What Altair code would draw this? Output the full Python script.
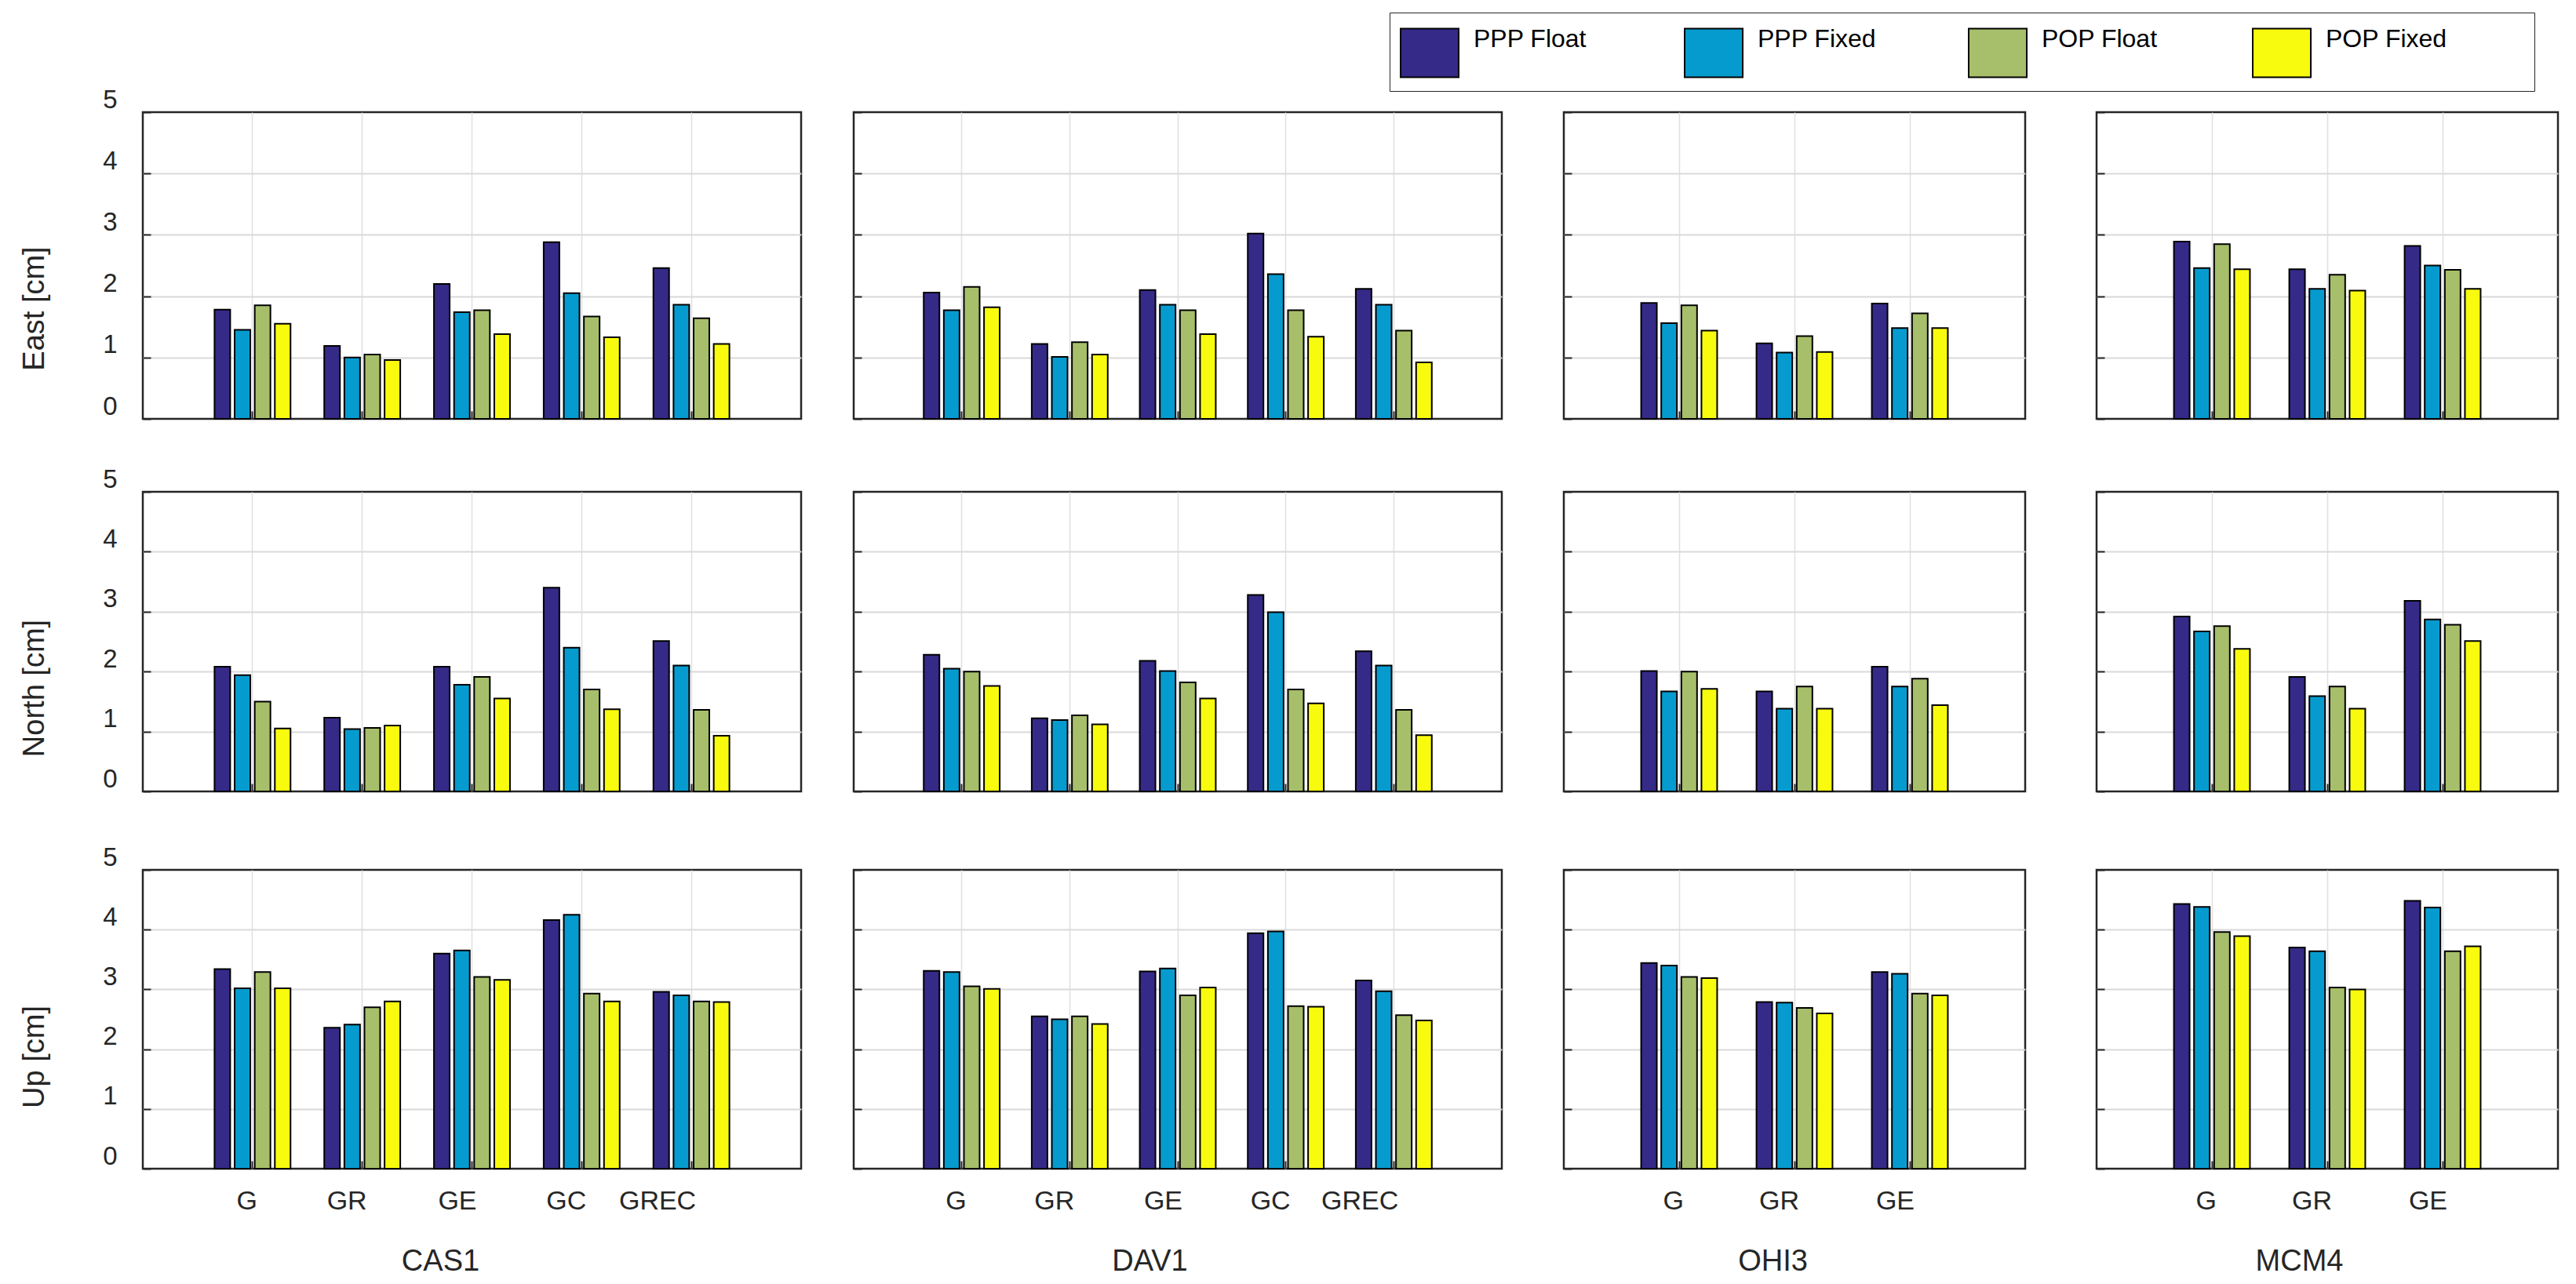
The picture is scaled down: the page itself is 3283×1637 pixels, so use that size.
import altair as alt
import pandas as pd

# ---------------- data ----------------
SERIES = ["PPP Float", "PPP Fixed", "POP Float", "POP Fixed"]
COLORS = ["#352A87", "#069BCF", "#A7BF6A", "#F9FB0E"]
STATIONS = ["CAS1", "DAV1", "OHI3", "MCM4"]
COMPONENTS = ["East", "North", "Up"]

GROUPS_CAS1 = ["G", "GR", "GE", "GC", "GREC"]
GROUPS_DAV1 = ["G", "GR", "GE", "GC", "GREC"]
GROUPS_OHI3 = ["G", "GR", "GE"]
GROUPS_MCM4 = ["G", "GR", "GE"]

# each list: [PPP Float, PPP Fixed, POP Float, POP Fixed], values per group
CAS1_EAST = [[1.78, 1.19, 2.20, 2.88, 2.46],
             [1.45, 1.00, 1.74, 2.05, 1.86],
             [1.85, 1.05, 1.77, 1.67, 1.64],
             [1.55, 0.96, 1.38, 1.33, 1.22]]
CAS1_NORTH = [[2.08, 1.23, 2.08, 3.40, 2.51],
              [1.94, 1.04, 1.78, 2.40, 2.10],
              [1.50, 1.06, 1.91, 1.70, 1.36],
              [1.05, 1.10, 1.55, 1.37, 0.93]]
CAS1_UP = [[3.34, 2.36, 3.60, 4.16, 2.96],
           [3.02, 2.41, 3.65, 4.25, 2.90],
           [3.29, 2.70, 3.21, 2.93, 2.80],
           [3.02, 2.80, 3.16, 2.80, 2.79]]

DAV1_EAST = [[2.06, 1.22, 2.10, 3.02, 2.12],
             [1.77, 1.01, 1.86, 2.36, 1.86],
             [2.15, 1.25, 1.77, 1.77, 1.44],
             [1.82, 1.05, 1.38, 1.34, 0.92]]
DAV1_NORTH = [[2.28, 1.22, 2.18, 3.28, 2.34],
              [2.05, 1.19, 2.01, 2.99, 2.10],
              [2.00, 1.27, 1.82, 1.70, 1.36],
              [1.76, 1.12, 1.55, 1.47, 0.94]]
DAV1_UP = [[3.31, 2.55, 3.30, 3.94, 3.15],
           [3.29, 2.50, 3.35, 3.97, 2.97],
           [3.05, 2.55, 2.90, 2.72, 2.57],
           [3.01, 2.42, 3.03, 2.71, 2.48]]

OHI3_EAST = [[1.89, 1.23, 1.88],
             [1.56, 1.08, 1.48],
             [1.85, 1.35, 1.72],
             [1.44, 1.09, 1.48]]
OHI3_NORTH = [[2.01, 1.67, 2.08],
              [1.67, 1.38, 1.75],
              [2.00, 1.75, 1.88],
              [1.71, 1.38, 1.44]]
OHI3_UP = [[3.44, 2.79, 3.29],
           [3.40, 2.78, 3.26],
           [3.21, 2.69, 2.93],
           [3.19, 2.60, 2.90]]

MCM4_EAST = [[2.89, 2.44, 2.82],
             [2.46, 2.12, 2.50],
             [2.85, 2.35, 2.43],
             [2.44, 2.09, 2.12]]
MCM4_NORTH = [[2.92, 1.91, 3.18],
              [2.67, 1.59, 2.87],
              [2.76, 1.75, 2.78],
              [2.38, 1.38, 2.51]]
MCM4_UP = [[4.43, 3.70, 4.48],
           [4.38, 3.64, 4.37],
           [3.96, 3.03, 3.64],
           [3.89, 3.00, 3.72]]

Y_TICKS = [0, 1, 2, 3, 4, 5]

GROUPS = {"CAS1": GROUPS_CAS1, "DAV1": GROUPS_DAV1, "OHI3": GROUPS_OHI3, "MCM4": GROUPS_MCM4}
VALUES = {
    ("CAS1", "East"): CAS1_EAST, ("CAS1", "North"): CAS1_NORTH, ("CAS1", "Up"): CAS1_UP,
    ("DAV1", "East"): DAV1_EAST, ("DAV1", "North"): DAV1_NORTH, ("DAV1", "Up"): DAV1_UP,
    ("OHI3", "East"): OHI3_EAST, ("OHI3", "North"): OHI3_NORTH, ("OHI3", "Up"): OHI3_UP,
    ("MCM4", "East"): MCM4_EAST, ("MCM4", "North"): MCM4_NORTH, ("MCM4", "Up"): MCM4_UP,
}

# ---------------- layout ----------------
FONT = "Liberation Sans"
TXT = "#262626"
WIDTHS = {"CAS1": 839, "DAV1": 826, "OHI3": 588, "MCM4": 588}
HEIGHTS = {"East": 391, "North": 382, "Up": 381}
YTITLE_Y = {"East": 250, "North": 250, "Up": 238}
XTITLE_X = {"CAS1": 379, "DAV1": 377, "OHI3": 266, "MCM4": 258}
GROUP_WIDTH = 102.5
TICK = 10  # tick length, drawn towards the inside of the frame
INWARD = alt.ExprRef(expr=str(-TICK))
# invisible padding so the legend frame extends to the right as in the original
PAD = "\u00a0" * 11 + "\u200b"

Y_GRID = {"condition": {"test": "datum.value === 0 || datum.value === 5", "value": "transparent"},
          "value": "#d9d9d9"}
TICKSTYLE = dict(ticks=True, tickSize=INWARD, tickWidth=2, tickColor=TXT, domain=False)

legend = alt.Legend(
    title=None, orient="none", legendX=1589, legendY=-127,
    direction="horizontal", columns=4, gridAlign="all", columnPadding=12,
    symbolType="M-1,-0.84H1V0.84H-1Z", symbolSize=5476,
    symbolStrokeColor="black", symbolStrokeWidth=2,
    labelFont=FONT, labelFontSize=32, labelColor="black", labelOffset=18,
    labelBaseline="bottom", labelLimit=800,
    labelExpr="datum.label + '" + PAD + "'",
    padding=13, strokeColor=TXT, fillColor="white",
)


def panel(station, comp, first_col, bottom):
    groups = GROUPS[station]
    values = VALUES[(station, comp)]
    rows = []
    for s, vals in zip(SERIES, values):
        for g, v in zip(groups, vals):
            rows.append({"group": g, "series": s, "value": v})
    df = pd.DataFrame(rows)
    w = WIDTHS[station]
    h = HEIGHTS[comp]
    step = w / (len(groups) + 1)
    pin = 1 - GROUP_WIDTH / step
    pout = 0.5 + pin / 2

    if bottom:
        xaxis = alt.Axis(
            title=station, labels=True, **TICKSTYLE,
            grid=True, gridColor="#e0e0e0", gridWidth=1.5, bandPosition=0.5,
            labelAngle=0, labelAlign="right", labelOffset=6, labelPadding=24 + TICK,
            labelBaseline="top", labelFontSize=34, labelFont=FONT, labelColor=TXT,
            titleFont=FONT, titleFontSize=38, titleFontWeight="normal", titleColor=TXT,
            titleX=XTITLE_X[station], titleY=118, titleAlign="center", titleBaseline="middle",
        )
    else:
        xaxis = alt.Axis(
            title=None, labels=False, **TICKSTYLE,
            grid=True, gridColor="#e0e0e0", gridWidth=1.5, bandPosition=0.5,
        )

    if first_col:
        yaxis = alt.Axis(
            values=Y_TICKS, grid=True, gridColor=Y_GRID, gridWidth=2,
            **TICKSTYLE,
            labels=True, labelFont=FONT, labelFontSize=33, labelColor=TXT,
            labelPadding=33 + TICK, labelOffset=-16, labelAlign="right", labelBaseline="middle",
            labelFlush=False, labelOverlap=False,
            title=comp + " [cm]", titleFont=FONT, titleFontSize=38, titleFontWeight="normal",
            titleColor=TXT, titleX=-138, titleY=YTITLE_Y[comp], titleAngle=270,
            titleAlign="center", titleBaseline="middle",
        )
    else:
        yaxis = alt.Axis(
            values=Y_TICKS, grid=True, gridColor=Y_GRID, gridWidth=2,
            **TICKSTYLE, labels=False, title=None,
        )

    return alt.Chart(df).mark_bar(stroke="black", strokeWidth=2).encode(
        x=alt.X("group:N", sort=groups, axis=xaxis,
                scale=alt.Scale(paddingInner=pin, paddingOuter=pout)),
        xOffset=alt.XOffset("series:N", sort=SERIES,
                            scale=alt.Scale(paddingInner=0.22, paddingOuter=0.11)),
        y=alt.Y("value:Q", axis=yaxis, scale=alt.Scale(domain=[0, 5], nice=False, zero=True)),
        color=alt.Color("series:N", sort=SERIES,
                        scale=alt.Scale(domain=SERIES, range=COLORS), legend=legend),
    ).properties(width=w, height=h)


def make_row(comp, bottom):
    p = [panel(st, comp, i == 0, bottom) for i, st in enumerate(STATIONS)]
    inner = alt.hconcat(p[2], p[3], spacing=91, bounds="flush")
    mid = alt.hconcat(p[1], inner, spacing=79, bounds="flush")
    return alt.hconcat(p[0], mid, spacing=67, bounds="flush")


r1 = make_row("East", False)
r2 = make_row("North", False)
r3 = make_row("Up", True)

lower = alt.vconcat(r2, r3, spacing=63)
chart = alt.vconcat(r1, lower, spacing=56).properties(
    padding={"left": 15, "top": 7, "right": 5, "bottom": 5},
    background="white",
).configure_view(
    stroke=TXT, strokeWidth=2.5
)

chart.save("out.html", embed_options={"renderer": "svg", "actions": False})
